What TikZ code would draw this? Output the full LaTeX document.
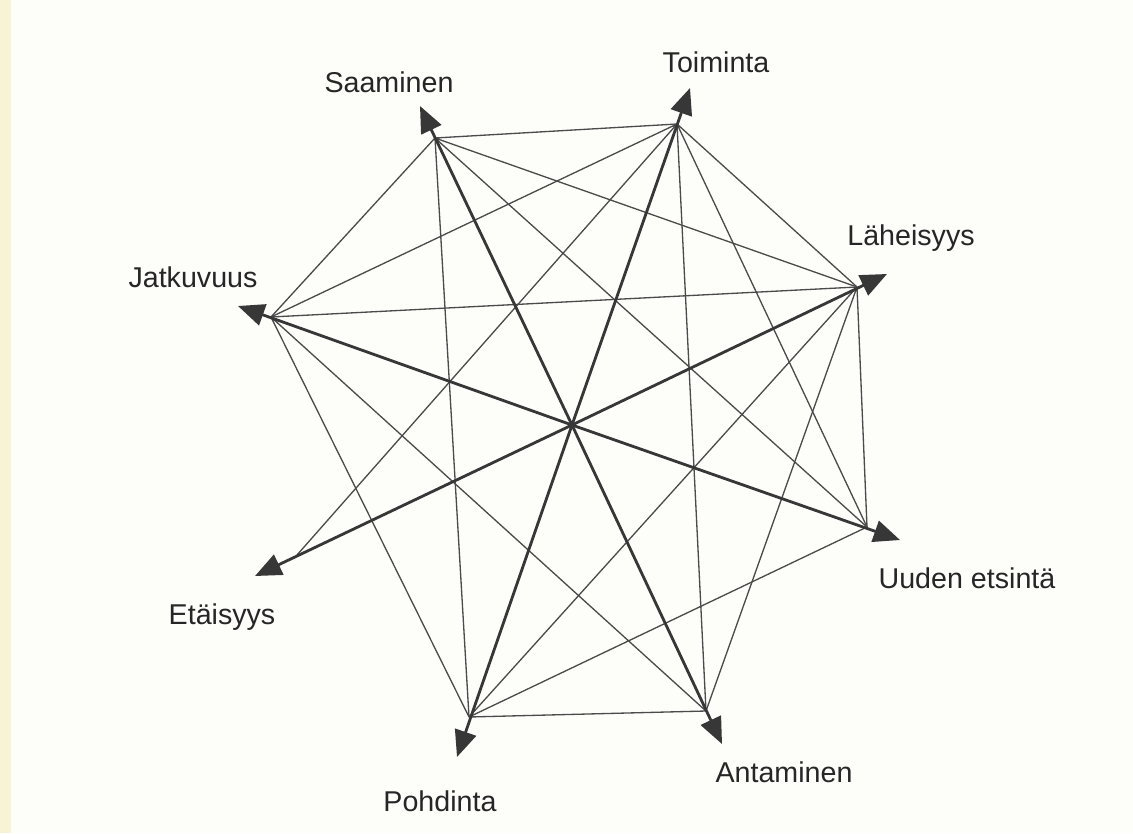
\documentclass[tikz,border=0pt]{standalone}
\usepackage{fontspec}
\setmainfont{Liberation Sans}
\usetikzlibrary{arrows.meta}
\definecolor{paper}{RGB}{253,253,250}
\definecolor{edge}{RGB}{248,243,212}
\definecolor{ink}{RGB}{55,55,55}
\begin{document}
\begin{tikzpicture}[x=0.02cm,y=-0.02cm,>={Triangle[length=15pt,width=12.5pt]},
  spoke/.style={->,draw=ink,fill=ink,line width=1.6pt},
  link/.style={draw=ink!90,line width=0.75pt},
  lbl/.style={font=\fontsize{16.3}{19}\selectfont,text=black!85,inner sep=0pt}]
\useasboundingbox (0,0) rectangle (1133,833);
\fill[paper] (0,0) rectangle (1133,833);
\fill[edge] (0,0) rectangle (11,833);
\coordinate (c) at (572,425);
\coordinate (S) at (435,138); \coordinate (T) at (677,124);
\coordinate (L) at (857,287); \coordinate (U) at (867,527);
\coordinate (A) at (706,711); \coordinate (P) at (469,717);
\coordinate (E) at (297,555); \coordinate (J) at (271,317);
\coordinate (tS) at (420,106); \coordinate (tT) at (690,88);
\coordinate (tL) at (887,274); \coordinate (tU) at (900,540);
\coordinate (tA) at (722,744); \coordinate (tP) at (457,757);
\coordinate (tE) at (255,576); \coordinate (tJ) at (238,306);
\draw[link] (S)--(T) (S)--(J) (S)--(P) (S)--(U) (S)--(L);
\draw[link] (T)--(J) (T)--(E) (T)--(A) (T)--(U) (T)--(L);
\draw[link] (L)--(J) (L)--(P) (L)--(A) (L)--(U);
\draw[link] (U)--(P) (A)--(P) (A)--(J) (P)--(J);
\draw[spoke] (c)--(tS);\draw[spoke] (c)--(tT);
\draw[spoke] (c)--(tL);\draw[spoke] (c)--(tU);
\draw[spoke] (c)--(tA);\draw[spoke] (c)--(tP);
\draw[spoke] (c)--(tE);\draw[spoke] (c)--(tJ);
\node[lbl] (saa) at (389,82) {Saaminen};
\node[lbl] (toi) at (716,62) {Toiminta};
\node[lbl] (lah) at (911,238) {Läheisyys};
\node[lbl] (jat) at (193,277) {Jatkuvuus};
\node[lbl] (eta) at (222,617) {Etäisyys};
\node[lbl] (uud) at (967,578) {Uuden etsintä};
\node[lbl] (poh) at (440,801) {Pohdinta};
\node[lbl] (ant) at (784,772) {Antaminen};
\end{tikzpicture}
\end{document}
